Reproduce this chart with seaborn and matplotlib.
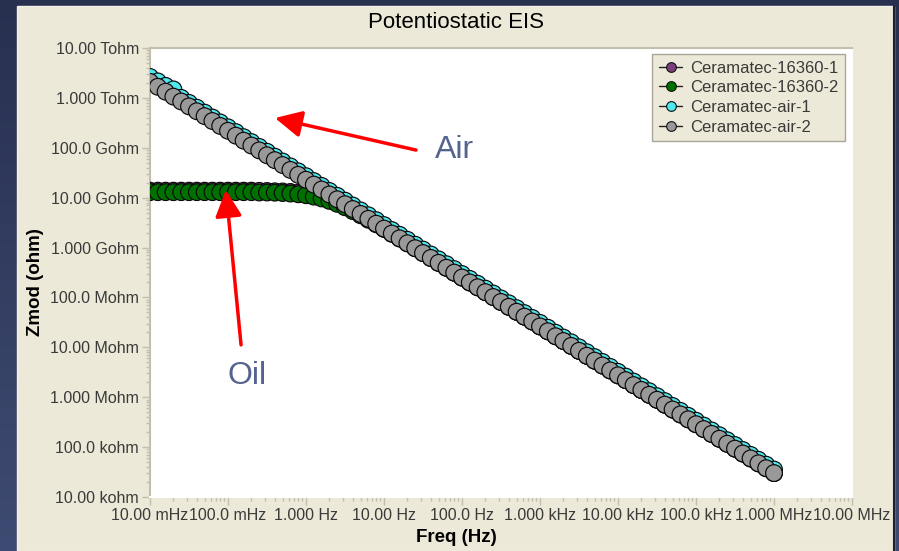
import numpy as np
import pandas as pd
import matplotlib
matplotlib.use("Agg")
import matplotlib.pyplot as plt
from matplotlib.patches import Rectangle
from matplotlib.lines import Line2D
from matplotlib.colors import LinearSegmentedColormap
from matplotlib.ticker import FixedLocator, FixedFormatter, LogLocator, NullFormatter
import seaborn as sns

# ---- data -------------------------------------------------------------
freq_hz = [
    0.01, 0.01259, 0.01585, 0.01995, 0.02512, 0.03162, 0.03981, 0.05012, 0.0631, 0.07943,
    0.1, 0.1259, 0.1585, 0.1995, 0.2512, 0.3162, 0.3981, 0.5012, 0.631, 0.7943,
    1.0, 1.259, 1.585, 1.995, 2.512, 3.162, 3.981, 5.012, 6.31, 7.943,
    10.0, 12.59, 15.85, 19.95, 25.12, 31.62, 39.81, 50.12, 63.1, 79.43,
    100.0, 125.9, 158.5, 199.5, 251.2, 316.2, 398.1, 501.2, 631.0, 794.3,
    1000.0, 1259.0, 1585.0, 1995.0, 2512.0, 3162.0, 3981.0, 5012.0, 6310.0, 7943.0,
    1.0e4, 1.259e4, 1.585e4, 1.995e4, 2.512e4, 3.162e4, 3.981e4, 5.012e4, 6.31e4, 7.943e4,
    1.0e5, 1.259e5, 1.585e5, 1.995e5, 2.512e5, 3.162e5, 3.981e5, 5.012e5, 6.31e5, 7.943e5,
    1.0e6,
]

zmod_air_2 = [
    2.09e12, 1.67e12, 1.33e12, 1.06e12, 8.47e11, 6.76e11, 5.40e11, 4.31e11, 3.44e11, 2.74e11,
    2.19e11, 1.75e11, 1.39e11, 1.11e11, 8.87e10, 7.08e10, 5.65e10, 4.51e10, 3.60e10, 2.87e10,
    2.29e10, 1.83e10, 1.46e10, 1.16e10, 9.29e9, 7.41e9, 5.92e9, 4.72e9, 3.77e9, 3.01e9,
    2.40e9, 1.91e9, 1.53e9, 1.22e9, 9.72e8, 7.76e8, 6.19e8, 4.94e8, 3.94e8, 3.15e8,
    2.51e8, 2.00e8, 1.60e8, 1.28e8, 1.02e8, 8.13e7, 6.49e7, 5.18e7, 4.13e7, 3.30e7,
    2.63e7, 2.10e7, 1.67e7, 1.34e7, 1.07e7, 8.51e6, 6.79e6, 5.42e6, 4.33e6, 3.45e6,
    2.75e6, 2.20e6, 1.75e6, 1.40e6, 1.12e6, 8.91e5, 7.11e5, 5.68e5, 4.53e5, 3.61e5,
    2.88e5, 2.30e5, 1.84e5, 1.47e5, 1.17e5, 9.33e4, 7.45e4, 5.94e4, 4.74e4, 3.78e4,
    3.02e4,
]

zmod_air_1 = [
    2.63e12, 2.14e12, 1.74e12, 1.48e12, 1.00e12, 7.94e11, 6.35e11, 5.06e11, 4.04e11, 3.22e11,
    2.57e11, 2.06e11, 1.63e11, 1.30e11, 1.04e11, 8.32e10, 6.64e10, 5.30e10, 4.23e10, 3.37e10,
    2.69e10, 2.15e10, 1.72e10, 1.36e10, 1.09e10, 8.71e9, 6.96e9, 5.55e9, 4.43e9, 3.54e9,
    2.82e9, 2.24e9, 1.80e9, 1.43e9, 1.14e9, 9.12e8, 7.27e8, 5.80e8, 4.63e8, 3.70e8,
    2.95e8, 2.35e8, 1.88e8, 1.50e8, 1.20e8, 9.55e7, 7.63e7, 6.09e7, 4.85e7, 3.88e7,
    3.09e7, 2.47e7, 1.96e7, 1.57e7, 1.26e7, 1.00e7, 7.98e6, 6.37e6, 5.09e6, 4.05e6,
    3.23e6, 2.59e6, 2.06e6, 1.65e6, 1.32e6, 1.05e6, 8.35e5, 6.67e5, 5.32e5, 4.24e5,
    3.38e5, 2.70e5, 2.16e5, 1.73e5, 1.37e5, 1.10e5, 8.75e4, 6.98e4, 5.57e4, 4.44e4,
    3.55e4,
]

zmod_16360_2 = [
    1.29e10, 1.29e10, 1.29e10, 1.29e10, 1.29e10, 1.29e10, 1.29e10, 1.29e10, 1.29e10, 1.29e10,
    1.29e10, 1.29e10, 1.29e10, 1.29e10, 1.27e10, 1.27e10, 1.26e10, 1.24e10, 1.21e10, 1.17e10,
    1.12e10, 1.05e10, 9.66e9, 8.63e9, 7.53e9, 6.43e9, 5.38e9, 4.44e9, 3.61e9, 2.93e9,
    2.36e9, 1.89e9, 1.52e9, 1.22e9, 9.72e8, 7.76e8, 6.19e8, 4.94e8, 3.94e8, 3.15e8,
    2.51e8, 2.00e8, 1.60e8, 1.28e8, 1.02e8, 8.13e7, 6.49e7, 5.18e7, 4.13e7, 3.30e7,
    2.63e7, 2.10e7, 1.67e7, 1.34e7, 1.07e7, 8.51e6, 6.79e6, 5.42e6, 4.33e6, 3.45e6,
    2.75e6, 2.20e6, 1.75e6, 1.40e6, 1.12e6, 8.91e5, 7.11e5, 5.68e5, 4.53e5, 3.61e5,
    2.88e5, 2.30e5, 1.84e5, 1.47e5, 1.17e5, 9.33e4, 7.45e4, 5.94e4, 4.74e4, 3.78e4,
    3.02e4,
]

zmod_16360_1 = [
    1.38e10, 1.38e10, 1.38e10, 1.38e10, 1.38e10, 1.38e10, 1.38e10, 1.38e10, 1.38e10, 1.38e10,
    1.38e10, 1.38e10, 1.38e10, 1.38e10, 1.37e10, 1.36e10, 1.34e10, 1.33e10, 1.30e10, 1.26e10,
    1.20e10, 1.13e10, 1.04e10, 9.30e9, 8.10e9, 6.90e9, 5.70e9, 4.70e9, 3.80e9, 3.05e9,
    2.42e9, 1.93e9, 1.55e9, 1.22e9, 9.72e8, 7.76e8, 6.19e8, 4.94e8, 3.94e8, 3.15e8,
    2.51e8, 2.00e8, 1.60e8, 1.28e8, 1.02e8, 8.13e7, 6.49e7, 5.18e7, 4.13e7, 3.30e7,
    2.63e7, 2.10e7, 1.67e7, 1.34e7, 1.07e7, 8.51e6, 6.79e6, 5.42e6, 4.33e6, 3.45e6,
    2.75e6, 2.20e6, 1.75e6, 1.40e6, 1.12e6, 8.91e5, 7.11e5, 5.68e5, 4.53e5, 3.61e5,
    2.88e5, 2.30e5, 1.84e5, 1.47e5, 1.17e5, 9.33e4, 7.45e4, 5.94e4, 4.74e4, 3.78e4,
    3.02e4,
]

series_names = ["Ceramatec-16360-1", "Ceramatec-16360-2", "Ceramatec-air-1", "Ceramatec-air-2"]
series_colors = ["#7b3f7b", "#007000", "#4ee8ee", "#999999"]

y_tick_values = [1e4, 1e5, 1e6, 1e7, 1e8, 1e9, 1e10, 1e11, 1e12, 1e13]
y_tick_labels = ["10.00 kohm", "100.0 kohm", "1.000 Mohm", "10.00 Mohm", "100.0 Mohm",
                 "1.000 Gohm", "10.00 Gohm", "100.0 Gohm", "1.000 Tohm", "10.00 Tohm"]
x_tick_values = [1e-2, 1e-1, 1e0, 1e1, 1e2, 1e3, 1e4, 1e5, 1e6, 1e7]
x_tick_labels = ["10.00 mHz", "100.0 mHz", "1.000 Hz", "10.00 Hz", "100.0 Hz",
                 "1.000 kHz", "10.00 kHz", "100.0 kHz", "1.000 MHz", "10.00 MHz"]

# long-form table, drawn in series order so later series sit on top
df = pd.concat([
    pd.DataFrame({"Freq": freq_hz, "Zmod": z, "Series": name})
    for name, z in zip(series_names,
                       [zmod_16360_1, zmod_16360_2, zmod_air_1, zmod_air_2])
], ignore_index=True)

# ---- figure -----------------------------------------------------------
sns.set_style("white")
plt.rcParams["font.family"] = ["Liberation Sans", "DejaVu Sans"]

W, H = 899, 551
fig = plt.figure(figsize=(W / 100, H / 100), dpi=100)

# dark navy backdrop with a soft vertical gradient
bg = fig.add_axes([0, 0, 1, 1], zorder=-10)
grad = np.linspace(0, 1, 256).reshape(-1, 1)
navy = LinearSegmentedColormap.from_list("navy", ["#283050", "#3e4b72"])
bg.imshow(grad, aspect="auto", cmap=navy, extent=[0, 1, 0, 1], origin="upper")
bg.set_axis_off()

# beige window panel
panel = Rectangle((17 / W, 0), (894 - 17) / W, (H - 6) / H, transform=fig.transFigure,
                  facecolor="#ece9d8", edgecolor="#f4f2e8", linewidth=1.0, zorder=-5)
fig.patches.append(panel)
fig.add_artist(Line2D([894 / W, 894 / W], [0, (H - 6) / H], transform=fig.transFigure,
                      color="#1c2030", linewidth=1.5, zorder=-4))

ax = fig.add_axes([150 / W, 1 - 497 / H, (852 - 150) / W, (497 - 48) / H])
ax.set_facecolor("white")

sns.scatterplot(data=df, x="Freq", y="Zmod", hue="Series", hue_order=series_names,
                palette=series_colors, s=145, edgecolor="#0a0a0a", linewidth=0.85,
                legend=False, ax=ax, zorder=3)

ax.set_xscale("log")
ax.set_yscale("log")
ax.set_xlim(1e-2, 1e7)
ax.set_ylim(1e4, 1e13)

tick_col = "#c3bfae"
label_col = "#3a3a3a"
ax.xaxis.set_major_locator(FixedLocator(x_tick_values))
ax.xaxis.set_major_formatter(FixedFormatter(x_tick_labels))
ax.yaxis.set_major_locator(FixedLocator(y_tick_values))
ax.yaxis.set_major_formatter(FixedFormatter(y_tick_labels))
ax.xaxis.set_minor_locator(LogLocator(base=10, subs=np.arange(2, 10), numticks=20))
ax.yaxis.set_minor_locator(LogLocator(base=10, subs=np.arange(2, 10), numticks=20))
ax.xaxis.set_minor_formatter(NullFormatter())
ax.yaxis.set_minor_formatter(NullFormatter())
ax.tick_params(axis="both", which="major", direction="out", length=6, width=1,
               color=tick_col, labelcolor=label_col, labelsize=11.5, pad=2)
ax.tick_params(axis="both", which="minor", direction="out", length=3, width=1,
               color=tick_col)
ax.tick_params(axis="x", which="both", bottom=True, top=False)
ax.tick_params(axis="y", which="both", left=True, right=False)

for side in ["left", "top", "bottom", "right"]:
    ax.spines[side].set_visible(True)
    ax.spines[side].set_color(tick_col)
    ax.spines[side].set_linewidth(1.5)
ax.spines["right"].set_color("#ffffff")
ax.spines["bottom"].set_color("#ffffff")

ax.set_xlabel("Freq (Hz)", fontsize=13.5, fontweight="bold", color="black")
ax.set_ylabel("Zmod (ohm)", fontsize=13.5, fontweight="bold", color="black")
ax.xaxis.label.set_verticalalignment("center")
ax.yaxis.label.set_verticalalignment("center")
ax.xaxis.set_label_coords((456 - 150) / (852 - 150), -(538 - 497) / (497 - 48))
ax.yaxis.set_label_coords(-(150 - 36) / (852 - 150), (497 - 282) / (497 - 48))

fig.text(456 / W, 1 - 23 / H, "Potentiostatic EIS", ha="center", va="center",
         fontsize=16, color="black")

# legend
handles = [Line2D([0], [0], color="#222222", linewidth=1.0, marker="o", markersize=7,
                  markerfacecolor=c, markeredgecolor="#111111", markeredgewidth=0.8)
           for c in series_colors]
leg = ax.legend(handles, series_names, loc="upper right",
                bbox_to_anchor=(0.990, 0.987), borderaxespad=0, fontsize=12,
                frameon=True, fancybox=False, handlelength=1.4, handletextpad=0.45,
                labelspacing=0.28, borderpad=0.4)
leg.get_frame().set_facecolor("#ece9d8")
leg.get_frame().set_edgecolor("#a8a59a")
leg.get_frame().set_linewidth(1.0)
leg.get_frame().set_alpha(1.0)
for t in leg.get_texts():
    t.set_color(label_col)

# callouts
arrow_kw = dict(arrowstyle="-|>,head_length=0.9,head_width=0.45", color="#ff0000",
                lw=2.5, mutation_scale=18, shrinkA=0, shrinkB=0)
ax.annotate("", xy=(0.40, 3.95e11), xytext=(25.7, 9.0e10), arrowprops=arrow_kw, zorder=5)
ax.text(81.3, 9.0e10, "Air", fontsize=23, color="#55648e", ha="center", va="center")
ax.annotate("", xy=(0.094, 1.43e10), xytext=(0.147, 1.12e7), arrowprops=arrow_kw, zorder=5)
ax.text(0.175, 2.67e6, "Oil", fontsize=23, color="#55648e", ha="center", va="center")

fig.savefig("out.png", dpi=100)
